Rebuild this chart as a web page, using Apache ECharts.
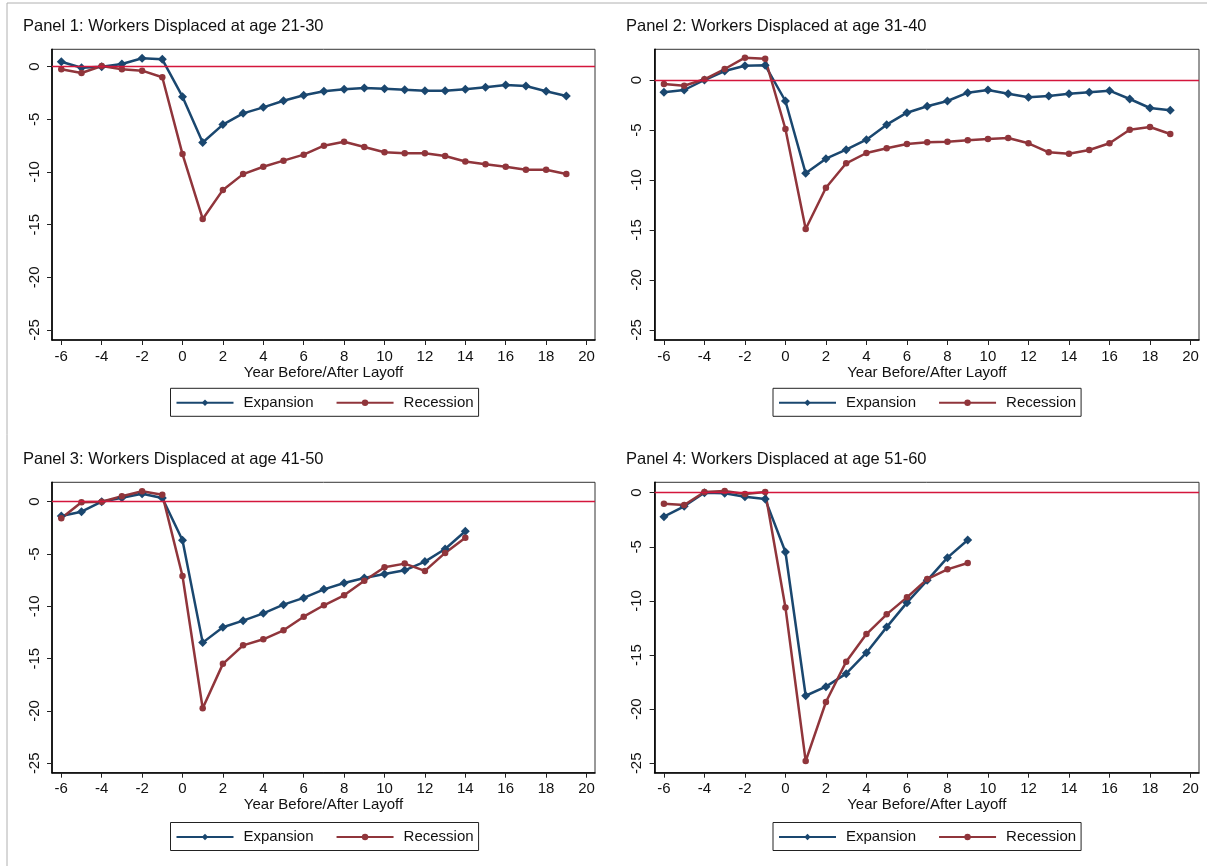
<!DOCTYPE html>
<html>
<head>
<meta charset="utf-8">
<script src="https://cdn.jsdelivr.net/npm/echarts@6/dist/echarts.min.js"></script>
<style>
html,body{margin:0;padding:0;background:#fff;}
#chart{width:1207px;height:866px;}
</style>
</head>
<body>
<div id="chart"></div>
<script>
// ---- data ----
const panelTitles = [
  'Panel 1: Workers Displaced at age 21-30',
  'Panel 2: Workers Displaced at age 31-40',
  'Panel 3: Workers Displaced at age 41-50',
  'Panel 4: Workers Displaced at age 51-60'
];
const seriesNames = ['Expansion', 'Recession'];
const xAxisTitle = 'Year Before/After Layoff';
const xTicks = [-6, -4, -2, 0, 2, 4, 6, 8, 10, 12, 14, 16, 18, 20];
const yTicks = [0, -5, -10, -15, -20, -25];

const years1 = [-6,-5,-4,-3,-2,-1,0,1,2,3,4,5,6,7,8,9,10,11,12,13,14,15,16,17,18,19];
const years2 = [-6,-5,-4,-3,-2,-1,0,1,2,3,4,5,6,7,8,9,10,11,12,13,14,15,16,17,18,19];
const years3 = [-6,-5,-4,-3,-2,-1,0,1,2,3,4,5,6,7,8,9,10,11,12,13,14];
const years4 = [-6,-5,-4,-3,-2,-1,0,1,2,3,4,5,6,7,8,9];

const p1Expansion = [0.47,-0.1,0,0.25,0.8,0.7,-2.85,-7.2,-5.5,-4.43,-3.86,-3.23,-2.72,-2.34,-2.15,-2.03,-2.09,-2.2,-2.28,-2.28,-2.15,-1.96,-1.74,-1.84,-2.34,-2.78];
const p1Recession = [-0.25,-0.6,0.06,-0.25,-0.38,-1.0,-8.3,-14.46,-11.7,-10.2,-9.5,-8.92,-8.35,-7.5,-7.12,-7.63,-8.13,-8.23,-8.23,-8.48,-9.0,-9.27,-9.5,-9.78,-9.78,-10.19];

const p2Expansion = [-1.23,-1.0,0,0.9,1.43,1.47,-2.1,-9.33,-7.87,-6.97,-5.97,-4.47,-3.27,-2.63,-2.1,-1.27,-1.0,-1.37,-1.73,-1.6,-1.37,-1.23,-1.07,-1.9,-2.8,-3.03];
const p2Recession = [-0.4,-0.57,0.07,1.1,2.23,2.13,-4.9,-14.9,-10.77,-8.33,-7.3,-6.83,-6.4,-6.23,-6.17,-6.03,-5.9,-5.8,-6.33,-7.23,-7.37,-7.0,-6.33,-4.97,-4.7,-5.4];

const p3Expansion = [-1.37,-0.96,0,0.38,0.76,0.35,-3.69,-13.47,-12.0,-11.37,-10.67,-9.84,-9.2,-8.38,-7.77,-7.29,-6.91,-6.56,-5.73,-4.52,-2.83];
const p3Recession = [-1.59,-0.06,0,0.51,0.99,0.67,-7.1,-19.75,-15.5,-13.73,-13.15,-12.29,-10.99,-9.9,-8.95,-7.55,-6.27,-5.92,-6.62,-4.9,-3.44];

const p4Expansion = [-2.22,-1.26,0,-0.06,-0.37,-0.59,-5.48,-18.76,-17.92,-16.72,-14.78,-12.42,-10.16,-8.1,-6.0,-4.37];
const p4Recession = [-1.02,-1.14,0.06,0.15,-0.12,0.06,-10.6,-24.8,-19.34,-15.61,-13.06,-11.24,-9.67,-7.98,-7.08,-6.5];

// ---- layout ----
const FONT = "'Liberation Sans', Arial, Helvetica, sans-serif";
const C_EXP = '#1a476f';
const C_REC = '#90353b';
const C_ZERO = '#d4163c';

const panels = [
  {years: years1, exp: p1Expansion, rec: p1Recession, grid: {left: 52, top: 49.3, width: 543, height: 290.7}, yMin: -25.95, yMax: 1.65, title: {left: 23, top: 18}, legend: {left: 170.5, top: 388.3}},
  {years: years2, exp: p2Expansion, rec: p2Recession, grid: {left: 654.6, top: 49.3, width: 544.4, height: 290.7}, yMin: -26.0, yMax: 3.07, title: {left: 626, top: 18}, legend: {left: 773, top: 388.3}},
  {years: years3, exp: p3Expansion, rec: p3Recession, grid: {left: 52, top: 482.3, width: 543, height: 290.4}, yMin: -25.9, yMax: 1.85, title: {left: 23, top: 451}, legend: {left: 170.5, top: 822.5}},
  {years: years4, exp: p4Expansion, rec: p4Recession, grid: {left: 654.6, top: 482.3, width: 544.4, height: 290.4}, yMin: -25.87, yMax: 0.96, title: {left: 626, top: 451}, legend: {left: 773, top: 822.5}}
];

const zip = (xs, ys) => ys.map((v, i) => [xs[i], v]);

const option = {
  animation: false,
  backgroundColor: '#fff',
  textStyle: {fontFamily: FONT},
  title: panels.map((p, i) => ({
    text: panelTitles[i], left: p.title.left, top: p.title.top, padding: 0,
    textStyle: {fontFamily: FONT, fontSize: 16.5, fontWeight: 'normal', color: '#111'}
  })),
  grid: panels.map(p => Object.assign({show: true, borderColor: '#333', borderWidth: 1, backgroundColor: '#fff'}, p.grid)),
  xAxis: panels.map((p, i) => ({
    type: 'value', gridIndex: i, min: -6.46, max: 20.42,
    name: xAxisTitle, nameLocation: 'middle', nameGap: 24,
    nameTextStyle: {fontFamily: FONT, fontSize: 15, color: '#111'},
    axisLine: {show: true, onZero: false, lineStyle: {color: '#000', width: 1.6}},
    axisTick: {show: true, length: 5, customValues: xTicks, lineStyle: {color: '#222', width: 1}},
    axisLabel: {show: true, customValues: xTicks, margin: 9, fontFamily: FONT, fontSize: 15, color: '#111'},
    splitLine: {show: false}
  })),
  yAxis: panels.map((p, i) => ({
    type: 'value', gridIndex: i, min: p.yMin, max: p.yMax,
    axisLine: {show: true, onZero: false, lineStyle: {color: '#000', width: 1.6}},
    axisTick: {show: true, length: 5, customValues: yTicks, lineStyle: {color: '#222', width: 1}},
    axisLabel: {show: true, customValues: yTicks, rotate: 90, margin: 10, fontFamily: FONT, fontSize: 15, color: '#111'},
    splitLine: {show: false}
  })),
  legend: panels.map((p, i) => ({
    data: seriesNames,
    left: p.legend.left, top: p.legend.top,
    orient: 'horizontal',
    itemWidth: 57, itemHeight: 8, itemGap: 22,
    padding: [7, 5, 6, 5],
    borderColor: '#222', borderWidth: 1,
    selectedMode: false,
    textStyle: {fontFamily: FONT, fontSize: 15, color: '#111', padding: [0, 0, 0, 5]}
  })),
  series: []
};

panels.forEach((p, i) => {
  option.series.push({
    name: seriesNames[0], type: 'line', xAxisIndex: i, yAxisIndex: i,
    data: zip(p.years, p.exp),
    symbol: 'diamond', symbolSize: 9, showSymbol: true,
    itemStyle: {color: C_EXP},
    lineStyle: {color: C_EXP, width: 2.5},
    z: 3,
    markLine: {
      silent: true, symbol: ['none', 'none'], label: {show: false},
      lineStyle: {color: C_ZERO, type: 'solid', width: 1.3},
      emphasis: {disabled: true},
      data: [{yAxis: 0}]
    }
  });
  option.series.push({
    name: seriesNames[1], type: 'line', xAxisIndex: i, yAxisIndex: i,
    data: zip(p.years, p.rec),
    symbol: 'circle', symbolSize: 6.5, showSymbol: true,
    itemStyle: {color: C_REC},
    lineStyle: {color: C_REC, width: 2.5},
    z: 3
  });
});

option.graphic = [
  {type: 'line', shape: {x1: 7, y1: 3, x2: 1207, y2: 3}, style: {stroke: '#b0b0b0', lineWidth: 1}},
  {type: 'line', shape: {x1: 7, y1: 3, x2: 7, y2: 866}, style: {stroke: '#b0b0b0', lineWidth: 1}}
];

const chart = echarts.init(document.getElementById('chart'), null, {renderer: 'canvas'});
chart.setOption(option);
</script>
</body>
</html>
